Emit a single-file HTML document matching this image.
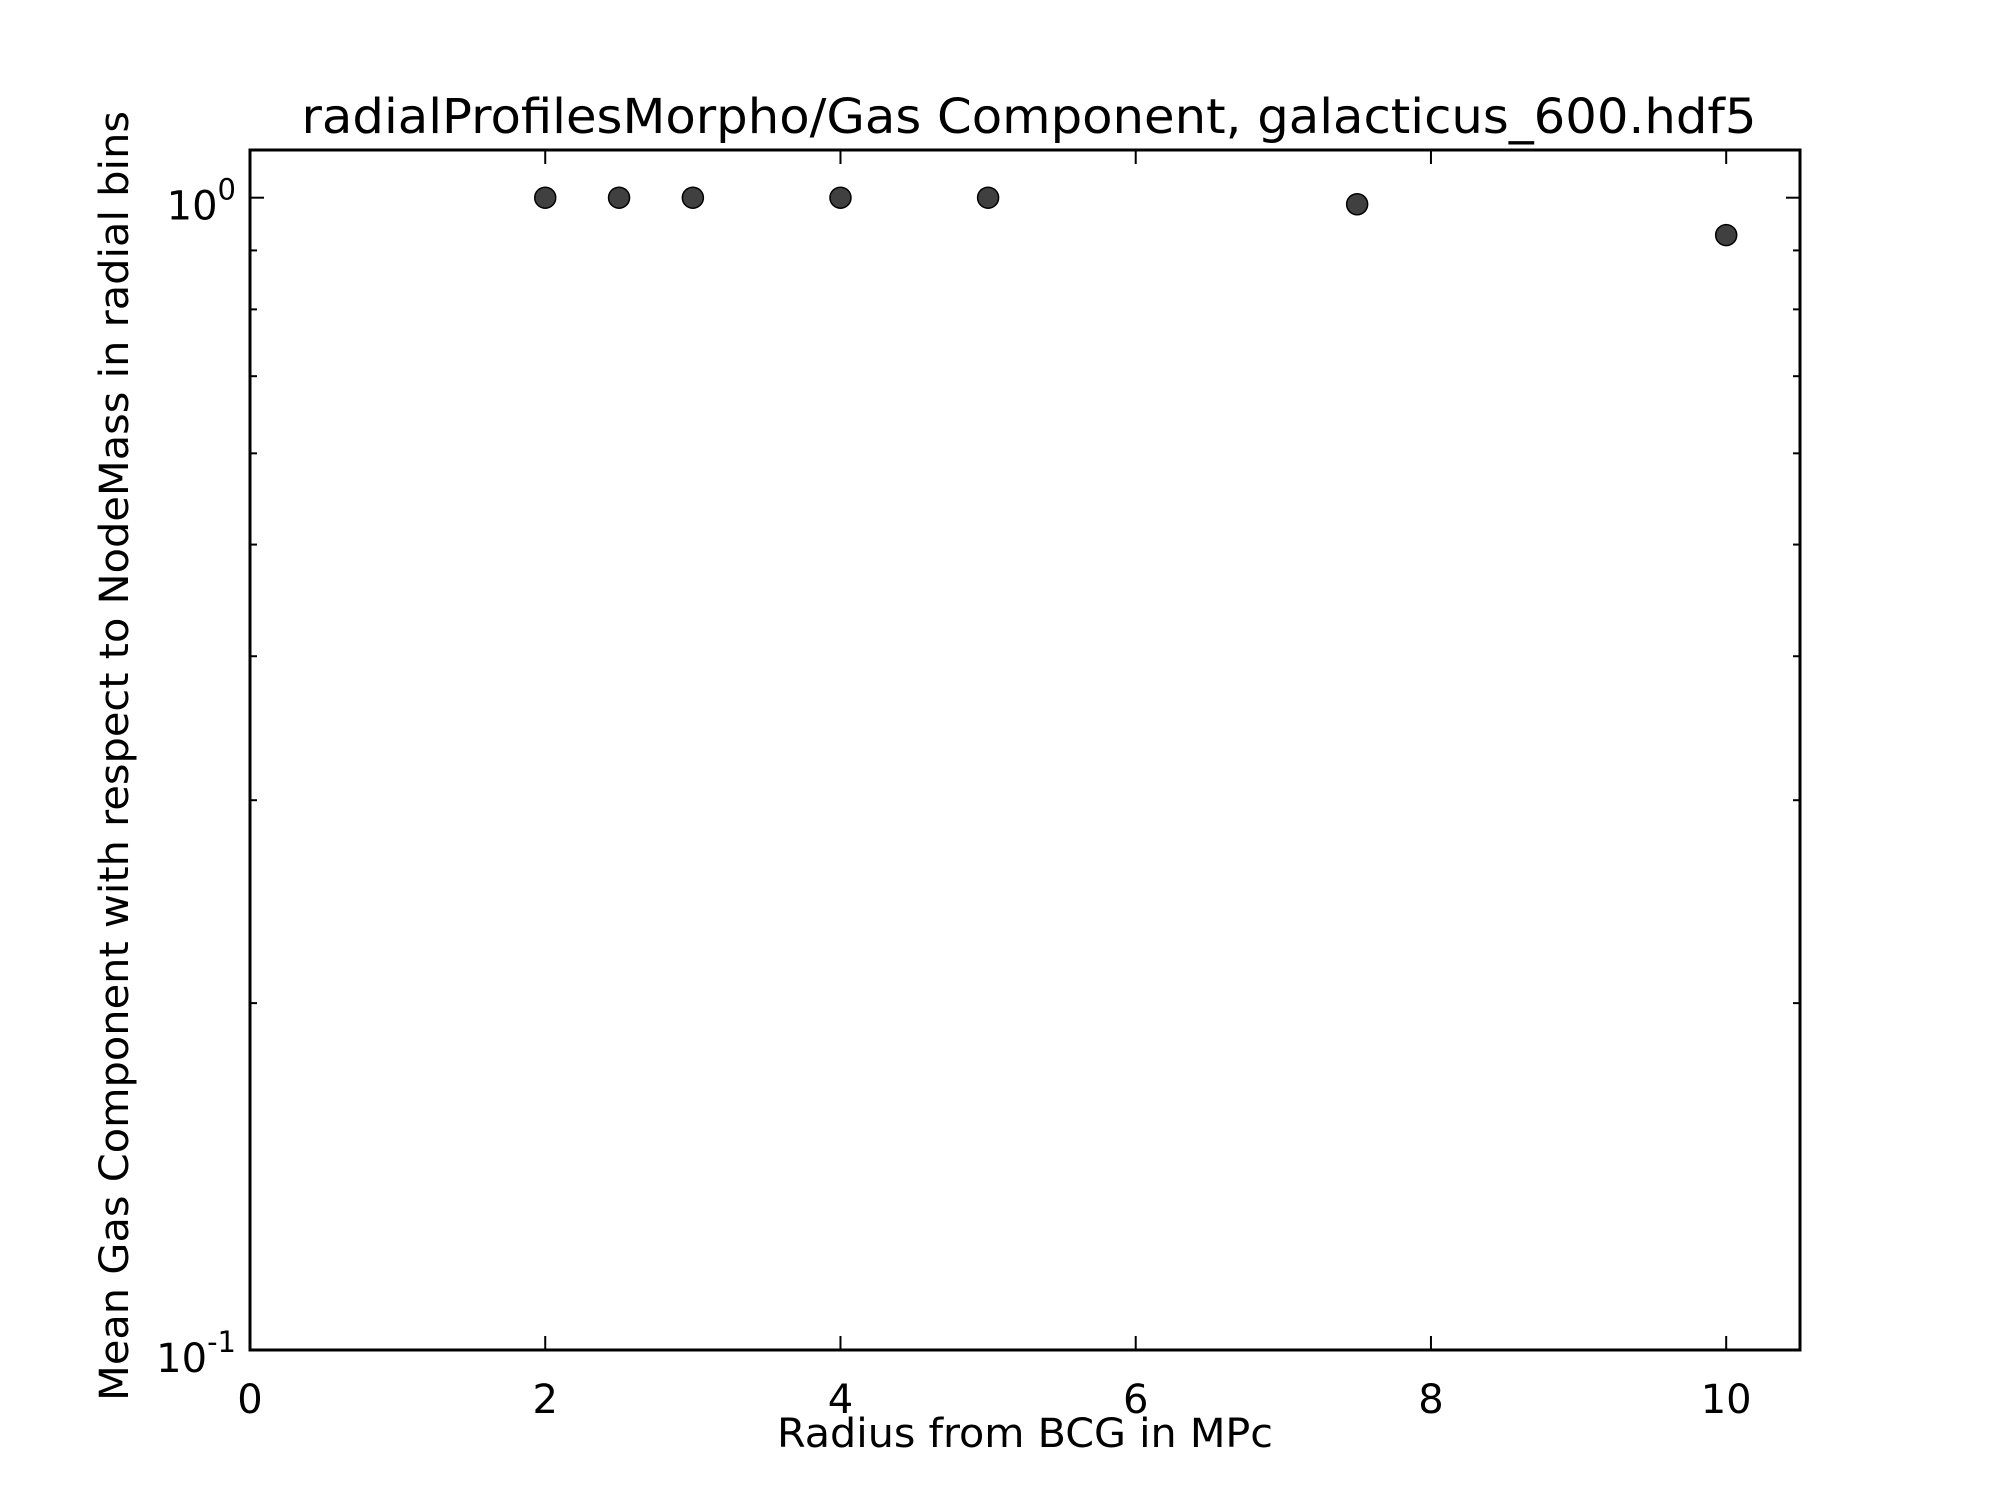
<!DOCTYPE html>
<html><head><meta charset="utf-8"><style>
html,body{margin:0;padding:0;background:#fff;}
svg{display:block;font-family:"DejaVu Sans","Liberation Sans",sans-serif;}
</style></head><body>
<svg id="chart" width="2000" height="1500" viewBox="0 0 2000 1500">
<rect width="2000" height="1500" fill="#fff"/>
<text x="1029" y="133" font-size="48" text-anchor="middle" textLength="1455" lengthAdjust="spacingAndGlyphs">radialProfilesMorpho/Gas Component, galacticus_600.hdf5</text>
<g id="ticks"></g>
<g id="marks"></g>
<rect x="250" y="150" width="1550" height="1200" fill="none" stroke="#000" stroke-width="3"/>
<text x="1025" y="1447" font-size="40" text-anchor="middle" textLength="496" lengthAdjust="spacingAndGlyphs">Radius from BCG in MPc</text>
<text transform="translate(128,756) rotate(-90)" font-size="40" text-anchor="middle" textLength="1290" lengthAdjust="spacingAndGlyphs">Mean Gas Component with respect to NodeMass in radial bins</text>
</svg>
<script>
const radii = [2, 2.5, 3, 4, 5, 7.5, 10];
const meanGas = [1.0, 1.0, 1.0, 1.0, 1.0, 0.987, 0.928];
const xTicks = [0, 2, 4, 6, 8, 10];
const yMajor = [0.1, 1];
const yMajorLabels = ["-1", "0"];
const yMinor = [0.2, 0.3, 0.4, 0.5, 0.6, 0.7, 0.8, 0.9];

const L=250,R=1800,T=150,B=1350, XMIN=0, XMAX=10.5, YMIN=0.1, YMAX=1.1;
const NS='http://www.w3.org/2000/svg';
const sx=v=>L+(v-XMIN)/(XMAX-XMIN)*(R-L);
const sy=v=>B-(Math.log10(v)-Math.log10(YMIN))/(Math.log10(YMAX)-Math.log10(YMIN))*(B-T);
function mk(tag,attrs,parent){const e=document.createElementNS(NS,tag);for(const k in attrs)e.setAttribute(k,attrs[k]);parent.appendChild(e);return e;}
const tg=document.getElementById('ticks'), mg=document.getElementById('marks');
xTicks.forEach(v=>{
  const x=sx(v);
  const a=mk('line',{x1:x,x2:x,y1:B,y2:B-14,stroke:'#000','stroke-width':2},tg);
  
  
  const b=mk('line',{x1:x,x2:x,y1:T,y2:T+14,stroke:'#000','stroke-width':2},tg);
  
  
  const t=mk('text',{x:x,y:1413,'font-size':40,'text-anchor':'middle'},tg);
  t.textContent=String(v);
  
  
});
yMajor.forEach((v,i)=>{
  const y=sy(v);
  const a=mk('line',{x1:L,x2:L+14,y1:y,y2:y,stroke:'#000','stroke-width':2},tg);
  
  
  const b=mk('line',{x1:R,x2:R-14,y1:y,y2:y,stroke:'#000','stroke-width':2},tg);
  
  
  const t=mk('text',{x:L-14,y:y+22,'font-size':40,'text-anchor':'end'},tg);
  
  
  const base=document.createElementNS(NS,'tspan');base.textContent='10';t.appendChild(base);
  const sup=document.createElementNS(NS,'tspan');sup.setAttribute('dy','-20');sup.setAttribute('font-size','29');sup.textContent=yMajorLabels[i];t.appendChild(sup);
});
yMinor.forEach(v=>{
  const y=sy(v);
  const a=mk('line',{x1:L,x2:L+7,y1:y,y2:y,stroke:'#000','stroke-width':2},tg);
  
  
  const b=mk('line',{x1:R,x2:R-7,y1:y,y2:y,stroke:'#000','stroke-width':2},tg);
  
  
});
radii.forEach((r,i)=>{
  const c=mk('circle',{cx:sx(r),cy:sy(meanGas[i]),r:10.5,fill:'#404040',stroke:'#000','stroke-width':1.5},mg);
  
  
});
</script>
</body></html>
